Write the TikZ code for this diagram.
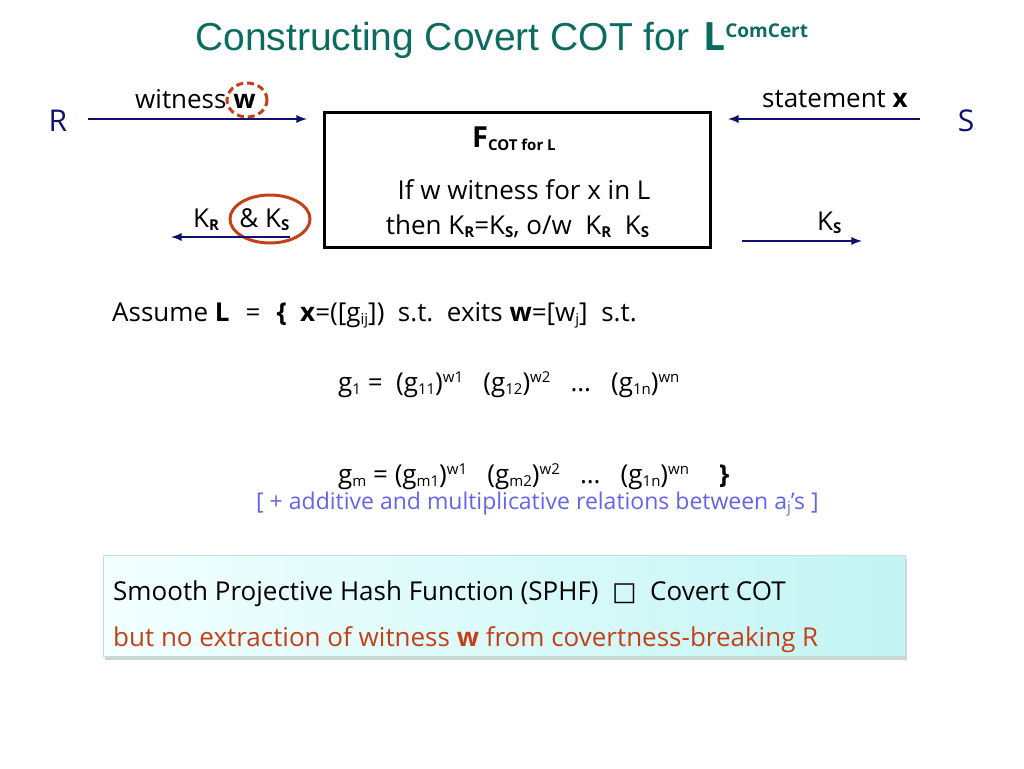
\documentclass[tikz,border=0pt]{standalone}
\usepackage{fontspec}
\setmainfont{Open Sans}
\newfontfamily\titlefont{Liberation Sans}
\newfontfamily\symfont{DejaVu Sans}
\usetikzlibrary{shapes,arrows,shadows}
\definecolor{navy}{RGB}{16,16,110}
\definecolor{teal}{RGB}{10,108,96}
\definecolor{ring}{RGB}{196,64,24}
\definecolor{note}{RGB}{100,100,235}
\definecolor{boxa}{RGB}{242,255,255}
\definecolor{boxb}{RGB}{196,244,244}
\newcommand{\bodysize}{\fontsize{26}{30}\selectfont}
\newcommand{\lo}[1]{\raisebox{-3.5pt}{\fontsize{15}{15}\selectfont #1}}
\newcommand{\hi}[1]{\raisebox{9pt}{\fontsize{15}{15}\selectfont #1}}
\tikzset{
	party/.style  = {text=navy, font=\fontsize{30}{30}\selectfont},
	func/.style   = {draw, line width=2.5pt, minimum width=386pt, minimum height=135pt},
	txt/.style    = {anchor=base west, inner sep=0pt, font=\bodysize},
	msg/.style    = {draw=navy, line width=2.6pt},
	ringed/.style = {draw=ring, ellipse, line width=3pt, inner sep=0pt},
	input/.style  = {coordinate}, % Input
	output/.style = {coordinate} % Output
}

\begin{document}
\begin{tikzpicture}[x=1pt, y=-1pt, >=latex]
	\useasboundingbox (0,0) rectangle (1024,768);
	\draw
	node at (195,50) [txt, text=teal, font=\titlefont\fontsize{39}{40}\selectfont] (title) {Constructing Covert COT for\hspace{14pt}{\normalfont\bfseries L}\raisebox{13pt}{\normalfont\fontsize{19}{19}\selectfont\bfseries ComCert}}
	node at (58,121) [party] (R) {R}
	node at (966,121) [party] (S) {S}
	node at (517.5,180) [func] (F) {}
	node at (472,147) [txt] (fname) {\fontsize{29}{29}\selectfont\bfseries F\lo{\bfseries COT for L}}
	node at (524,199) [txt, anchor=base] (fif) {If w witness for x in L}
	node at (517.5,234) [txt, anchor=base] (fthen) {then K\lo{\bfseries R}=K\lo{\bfseries S}, o/w\ \ K\lo{\bfseries R}\ \ K\lo{\bfseries S}}
	node at (135,108) [txt] (wit) {witness \textbf{w}}
	node at (762,107) [txt] (stmt) {statement \textbf{x}}
	node at (193,227) [txt] (kr) {K\lo{\bfseries R}\ \ \ \& K\lo{\bfseries S}}
	node at (817,230) [txt] (ks) {K\lo{\bfseries S}};

	% rings
	\node at (247,100) [ringed, dashed, dash pattern=on 7pt off 4pt, minimum width=40pt, minimum height=34pt] (wring) {};
	\node at (270,219) [ringed, minimum width=80pt, minimum height=48pt] (kring) {};

	% messages
	\node at (88,119) [input] (rin) {};
	\node at (307,119) [output] (rout) {};
	\node at (920,119) [input] (sin) {};
	\node at (728,119) [output] (sout) {};
	\node at (290,237) [input] (krin) {};
	\node at (171,237) [output] (krout) {};
	\node at (742,241) [input] (ksin) {};
	\node at (862,241) [output] (ksout) {};
	\draw[msg,->] (rin) -- (rout);
	\draw[msg,->] (sin) -- (sout);
	\draw[msg,->] (krin) -- (krout);
	\draw[msg,->] (ksin) -- (ksout);

	% language
	\draw
	node at (112,321) [txt] (assume) {Assume \textbf{L}\hspace{16pt}=\hspace{16pt}\textbf{\{}\ \ \textbf{x}=([g\lo{ij}])\ \ s.t.\ \ exits \textbf{w}=[w\lo{j}]\ \ s.t.}
	node at (338,391) [txt] (g1) {g\lo{1} =\ \ (g\lo{11})\hi{w1}\ \ \ (g\lo{12})\hi{w2}\ \ \ \dots\hspace{20pt}(g\lo{1n})\hi{wn}}
	node at (338,483) [txt] (gm) {g\lo{m} = (g\lo{m1})\hi{w1}\ \ \ (g\lo{m2})\hi{w2}\ \ \ \dots\ \ \ (g\lo{1n})\hi{wn}\hspace{30pt}\textbf{\}}}
	node at (256,509) [txt, text=note, font=\fontsize{23}{26}\selectfont] (rel) {[ + additive and multiplicative relations between a\lo{j}’s ]};

	% summary
	\node at (504,606) [draw=boxb!70!teal!60, line width=0.6pt, left color=boxa, right color=boxb, minimum width=802pt, minimum height=101pt, drop shadow={shadow xshift=2pt, shadow yshift=-3pt, fill=black!35}] (sum) {};
	\draw
	node at (113,600) [txt] (sphf) {Smooth Projective Hash Function (SPHF)\ \ {\symfont □}\ \ Covert COT}
	node at (113,646) [txt, text=ring] (extr) {but no extraction of witness \textbf{w} from covertness-breaking R};
\end{tikzpicture}
\end{document}
